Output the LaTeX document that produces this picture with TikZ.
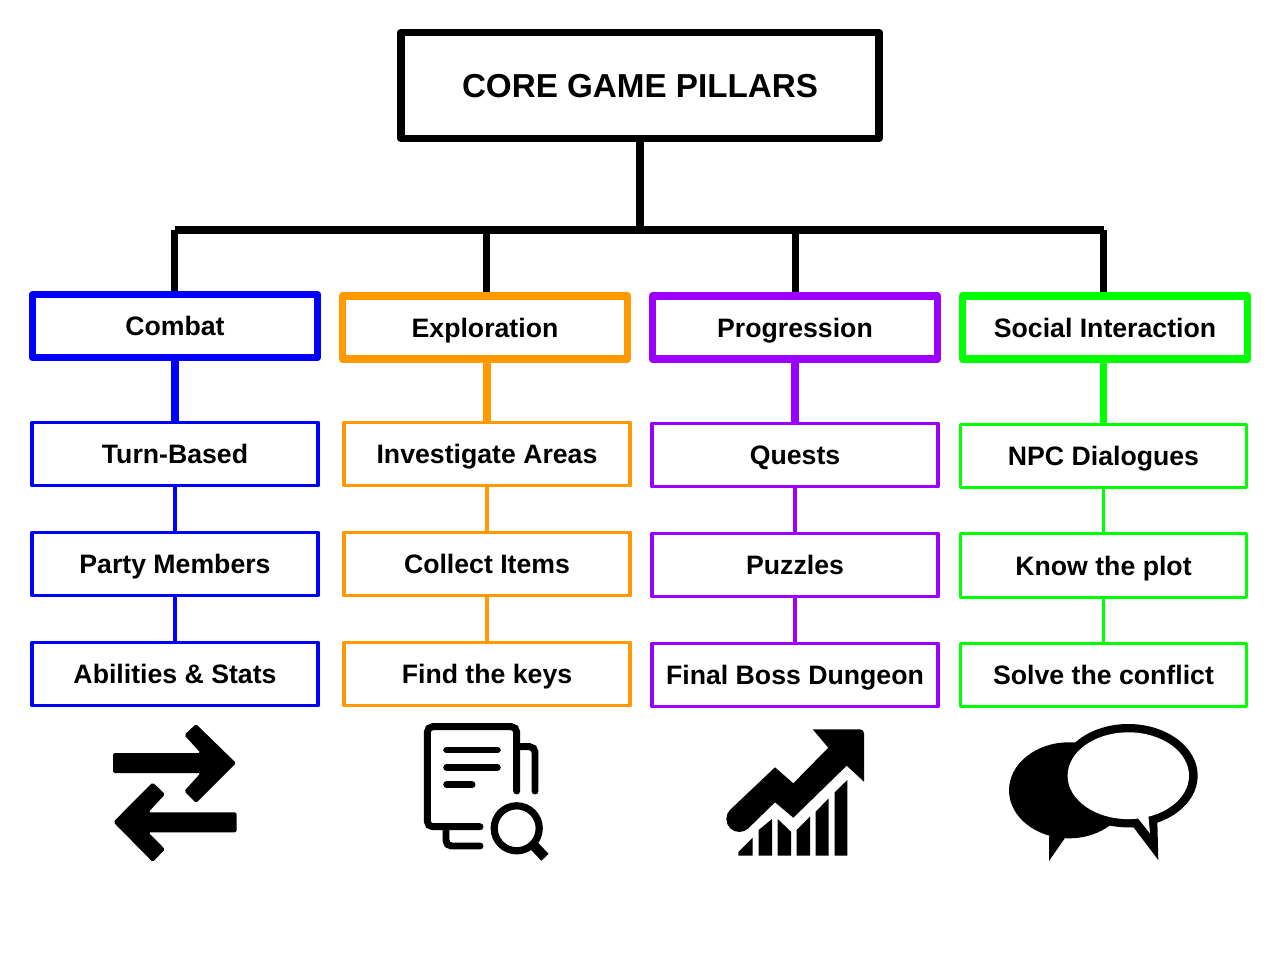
\documentclass[tikz,border=0pt]{standalone}
\usepackage{fontspec}
\setmainfont{Liberation Sans}
\tikzset{
  base/.style={draw,line join=round,align=center,inner sep=0pt,font=\bfseries\fontsize{20}{22}\selectfont,text height=14.3pt,text depth=0pt},
  rootbox/.style={base,draw=black,line width=5.6pt,minimum width=358.5pt,minimum height=79.5pt,font=\bfseries\fontsize{24.9}{28}\selectfont,text height=17.8pt},
  headbox/.style={base,line width=5.6pt,minimum width=213.75pt,minimum height=47.25pt},
  subbox/.style={base,line width=2.5pt,minimum width=214.5pt,minimum height=47.6pt},
  thickline/.style={line width=5.6pt},
  thinline/.style={line width=2.5pt},
  icon/.style={fill=black,draw=none},
  iconline/.style={draw=black,line width=5.2pt,line cap=round,rounded corners=4pt}
}
\definecolor{cblue}{HTML}{0000FF}
\definecolor{corange}{HTML}{FF9900}
\definecolor{cpurple}{HTML}{9900FF}
\definecolor{cgreen}{HTML}{00FF00}
\begin{document}
\begin{tikzpicture}[x=0.75pt,y=-0.75pt]
\useasboundingbox[fill=white] (0,0) rectangle (1280,960);
% root and bus
\node[rootbox] (root) at (640,85.5) {CORE GAME PILLARS};
\coordinate (bus) at (640,230);
\coordinate (b1) at (174.5,230);
\coordinate (b2) at (486.5,230);
\coordinate (b3) at (795.5,230);
\coordinate (b4) at (1103.5,230);
% headers
\node[headbox,draw=cblue] (h1) at (175,326) {Combat};
\node[headbox,draw=corange] (h2) at (485,327.5) {Exploration};
\node[headbox,draw=cpurple] (h3) at (795,327.5) {Progression};
\node[headbox,draw=cgreen] (h4) at (1105,327.5) {Social Interaction};
% sub boxes
\node[subbox,draw=cblue] (a1) at (175,454) {Turn-Based};
\node[subbox,draw=cblue] (a2) at (175,564) {Party Members};
\node[subbox,draw=cblue] (a3) at (175,674) {Abilities \& Stats};
\node[subbox,draw=corange] (c1) at (487,454) {Investigate Areas};
\node[subbox,draw=corange] (c2) at (487,564) {Collect Items};
\node[subbox,draw=corange] (c3) at (487,674) {Find the keys};
\node[subbox,draw=cpurple] (d1) at (795,455) {Quests};
\node[subbox,draw=cpurple] (d2) at (795,565) {Puzzles};
\node[subbox,draw=cpurple] (d3) at (795,675) {Final Boss Dungeon};
\node[subbox,draw=cgreen] (e1) at (1103.5,456) {NPC Dialogues};
\node[subbox,draw=cgreen] (e2) at (1103.5,565.5) {Know the plot};
\node[subbox,draw=cgreen] (e3) at (1103.5,675) {Solve the conflict};
% connectors
\draw[thickline] (root.south) -- (bus);
\draw[thickline] (b1) -- (b4);
\foreach \b/\h in {b1/h1,b2/h2,b3/h3,b4/h4}
  \draw[thickline] (\b) -- (\b |- \h.north);
\draw[thickline,cblue] (a1.north) -- (a1.north |- h1.south);
\draw[thickline,corange] (c1.north) -- (c1.north |- h2.south);
\draw[thickline,cpurple] (d1.north) -- (d1.north |- h3.south);
\draw[thickline,cgreen] (e1.north) -- (e1.north |- h4.south);
\draw[thinline,cblue] (a1) -- (a2) (a2) -- (a3);
\draw[thinline,corange] (c1) -- (c2) (c2) -- (c3);
\draw[thinline,cpurple] (d1) -- (d2) (d2) -- (d3);
\draw[thinline,cgreen] (e1) -- (e2) (e2) -- (e3);
% icon 1: arrows
\begin{scope}[rounded corners=1.3pt]
\fill[icon] (113,753) -- (200.7,753) -- (184.3,735) -- (196,724) -- (236,763) -- (196,803) -- (184.3,791) -- (200.7,773) -- (113,773) -- cycle;
\fill[icon] (236.7,812.3) -- (148.3,812.3) -- (165,794.3) -- (152.7,782.3) -- (113.3,822) -- (152.7,862) -- (165,849.3) -- (148.3,832.3) -- (236.7,832.3) -- cycle;
\end{scope}
% icon 2: document search
\draw[iconline] (480,826.7) -- (427.3,826.7) -- (427.3,726.7) -- (516.7,726.7) -- (516.7,791);
\draw[iconline] (520,746.7) -- (535,746.7) -- (535,791);
\draw[iconline] (446.7,750) -- (497.3,750);
\draw[iconline] (446.7,767.3) -- (497.3,767.3);
\draw[iconline] (446.7,784.7) -- (472,784.7);
\draw[iconline] (446,826.7) -- (446,846) -- (480,846);
\draw[draw=black,line width=5.4pt] (516.7,828.3) circle [radius=22.5];
\draw[draw=black,line width=7.5pt] (533,844.7) -- (545,857.3);
% icon 3: growth chart
\fill[icon] (812.7,729.3) -- (860,729.3) arc [start angle=-90,end angle=0,radius=4] -- (864,781.7) -- (846.7,765.7) -- (793.3,817.7) -- (775,802.3) -- (747.7,828.9) -- (730.9,809.1) -- (775,767.3) -- (793.3,783.3) -- (828.3,747.7) -- cycle;
\fill[icon] (739.3,819) circle [radius=13];
\fill[icon] (738.3,855.7) -- (738.3,852) -- (752.7,837.7) -- (752.7,855.7) -- cycle;
\fill[icon] (758.7,855.7) -- (758.7,830) -- (772,819) -- (772,855.7) -- cycle;
\fill[icon] (777.7,855.7) -- (777.7,819) -- (791,831.7) -- (791,855.7) -- cycle;
\fill[icon] (796.7,855.7) -- (796.7,830) -- (810,816.7) -- (810,855.7) -- cycle;
\fill[icon] (815.7,855.7) -- (815.7,811.7) -- (828.7,798.3) -- (828.7,855.7) -- cycle;
\fill[icon] (834.7,855.7) -- (834.7,792.3) -- (847.3,780) -- (847.3,855.7) -- cycle;
% icon 4: speech bubbles
\fill[icon] (1069,790.3) circle [x radius=60,y radius=48];
\fill[icon] (1049.3,830) -- (1049,861) -- (1067,835) -- cycle;
\fill[icon] (1128.3,775.7) circle [x radius=69.4,y radius=51.7];
\fill[icon] (1133.3,827) -- (1158.3,860) -- (1157.3,820) -- cycle;
\fill[white] (1128.3,775.7) circle [x radius=60.7,y radius=43.4];
\fill[white] (1137.7,818) -- (1150,833.3) -- (1148.3,815) -- cycle;
\end{tikzpicture}
\end{document}
